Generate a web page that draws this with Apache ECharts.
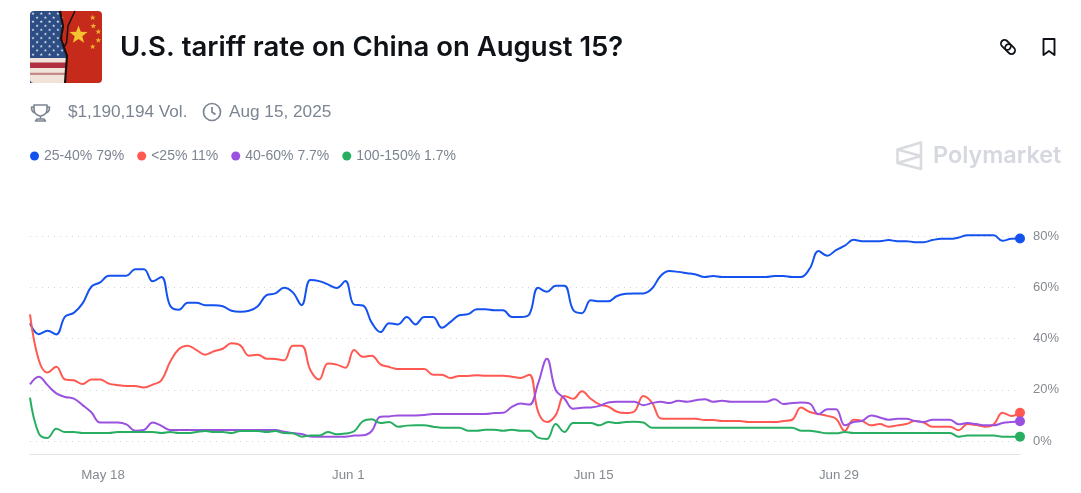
<!DOCTYPE html>
<html>
<head>
<meta charset="utf-8">
<title>U.S. tariff rate on China on August 15?</title>
<script src="https://cdn.jsdelivr.net/npm/echarts@6/dist/echarts.min.js"></script>
<style>
  html, body { margin: 0; padding: 0; background: #fff; }
  #chart { width: 1081px; height: 493px; }
</style>
</head>
<body>
<div id="chart"></div>
<script>
// one reading every 12 hours, starting May 13 20:00
var startTime = Date.UTC(2025, 4, 13, 20);
var stepMs = 12 * 3600 * 1000;

var tickDates = [Date.UTC(2025, 4, 18), Date.UTC(2025, 5, 1), Date.UTC(2025, 5, 15), Date.UTC(2025, 5, 29)];
var tickLabels = ['May 18', 'Jun 1', 'Jun 15', 'Jun 29'];

var names = ['25-40%', '<25%', '40-60%', '100-150%'];
var latest = ['79%', '11%', '7.7%', '1.7%'];
var colors = ['#1452F0', '#FF5952', '#9B51E0', '#27AE60'];

var blue = [45.9,41.7,43,41.6,48.5,50,53.7,60.2,61.9,64.5,
  64.5,64.5,67,67,62.3,64,52.8,51.2,54,54,
  53,53,52.6,50.8,50.4,50.8,52.6,56.9,57.6,59.8,
  58,53,62.8,62.4,61.1,59.7,62.4,53.2,52.9,46.2,
  42.5,46,45.5,48.4,45.5,48.4,48.4,44.2,46.5,49.1,
  49.5,51.4,51.4,51,51,48.4,48.4,49.5,59.8,58.2,
  60.6,60.6,51.1,49.9,54.9,54.5,54.5,56.6,57.5,57.6,
  57.6,59.5,64.5,66.3,66,65.5,65,64,64.4,64,
  64,64,64,64,64,64.4,64.4,64,64,67.3,
  74.1,72.3,74.5,76.2,78.5,78,78,78,78.4,78,
  78,77.6,77.6,78.4,78.9,78.9,79.4,80.3,80.3,80.3,
  80.3,78.1,78.9,79];

var red = [49.4,31.6,26.7,29,24,23.7,22.2,24,24,22.4,
  21.8,21.5,21.5,20.9,22,23.7,30.9,35.9,37.2,35.5,
  33.7,35,36,38.1,37.3,33.3,33.7,32.1,32,31.5,
  37.2,37.2,27.7,24,30.2,29.8,28.6,35.5,32.9,33.3,
  29.9,28.9,28.1,28.1,28.1,28.1,25.9,25.9,24.6,25.4,
  25.4,25.7,25.5,25.5,25.5,25.1,24.6,25.9,11.4,7.4,
  10.1,17.6,16.5,19.4,16.5,14.3,13.4,11.4,10.9,11.6,
  17.6,15,8.8,8.7,8.7,8.7,8.7,8.2,8.2,7.8,
  7.8,7.8,7.4,7.4,7.4,7.4,7.8,8.3,13.1,11.3,
  10.5,9.8,8.7,4,8.3,7.8,6.1,6.6,5.6,6.1,
  6.6,7.8,7.2,5.6,5.6,5.6,4.2,6.6,6.2,5.6,
  6.5,11,9.8,11];

var purple = [22.1,25.1,21.8,18.6,17.2,16.5,14,11.2,7.2,7.2,
  7.2,6.5,4,4.3,7.2,5.9,4.3,4.3,4.3,4.3,
  4.3,4.3,4.3,4.3,4.3,4.3,4.3,4.3,4.3,3.6,
  3.1,2.7,1.8,1.7,1.7,1.7,1.7,2.1,2.2,3.9,
  9.5,9.6,10,10,10,10.1,10.5,10.5,10.5,10.5,
  10.5,10.5,10.5,10.9,11,13.3,14.6,14.2,22.5,32.1,
  19.9,16.6,12.6,13,13.1,13.7,15,15.3,15.3,15.3,
  14,14.8,15.3,14.8,15.7,15.3,15.9,16.3,15.3,15.7,
  15.3,15.3,15.3,15.3,15.3,16.3,14.4,14.8,15,14.6,
  10.4,12.4,12.4,6.1,7.4,7.9,10,9.2,8.3,8.7,
  8.7,7.8,7.4,8.3,8.3,8.3,6.5,7,6.6,6.1,
  6.1,7,7.4,7.7];

var green = [16.9,3,1.2,4.8,3.5,3.5,3.1,3.1,3.1,3.1,
  3.5,3.5,3.5,3.5,3.5,3.1,3.5,3.1,3.1,3.5,
  3.9,3.5,3.5,3.1,3.9,3.9,3.9,3.5,3.9,3.1,
  3,1.7,2.1,2.1,3.5,2.6,2.9,3.8,7.7,8.5,
  7,7.4,5.6,6,6.1,6.1,5.6,5.2,5.2,5.2,
  4,4,4.4,4.4,4,4.4,4,4,1.3,0.8,
  6.6,3.5,7,7,7,6.1,7.4,7,7.4,7.5,
  7.2,5.2,5.2,5.2,5.2,5.2,5.2,5.2,5.2,5.2,
  5.2,5.2,5.2,5.2,5.2,5.2,5.2,5.2,4,4,
  3.5,3,3,3.5,3.1,3.1,3.1,3.1,3.1,3.1,
  3.1,3.1,3.1,3.1,3.1,3.1,1.7,2.1,2.1,2.1,
  2.1,1.7,1.7,1.7];

var allSeries = [blue, red, purple, green];
var titleFont = 'Inter, "Noto Sans", sans-serif';
var bodyFont = '"Liberation Sans", Arial, sans-serif';
var greyText = '#7C8591';

function starPath(cx, cy, r) {
  var d = '';
  for (var i = 0; i < 10; i++) {
    var a = -Math.PI / 2 + i * Math.PI / 5;
    var rr = i % 2 ? r * 0.42 : r;
    d += (i ? 'L' : 'M') + (cx + rr * Math.cos(a)).toFixed(1) + ' ' + (cy + rr * Math.sin(a)).toFixed(1);
  }
  return d + 'Z';
}

// the graphic component has no plain path type, so register one per icon
var pathCount = 0;
function path(d, style) {
  var name = 'iconPath' + (pathCount++);
  echarts.graphic.registerShape(name, echarts.graphic.extendPath(d, {}));
  return { type: name, silent: true, style: style };
}

function rect(x, y, w, h, fill, r) {
  return { type: 'rect', silent: true, shape: { x: x, y: y, width: w, height: h, r: r || 0 }, style: { fill: fill } };
}

function label(text, x, y, font, color) {
  return { type: 'text', silent: true, x: x, y: y, style: { text: text, font: font, fill: color, textVerticalAlign: 'middle' } };
}

// the flag thumbnail and header icons
function headerGraphics() {
  var g = [];
  g.push(rect(60, 11, 42, 72, '#C62A1B', [0, 4, 4, 0]));
  g.push(path('M30 15 Q30 11 34 11 H60 L63 26 L61 39 L67 56 L65 83 H30 Z', { fill: '#2D4D85' }));
  g.push(path('M30 58 H66.5 L65 83 H34 Q30 83 30 79 Z', { fill: '#EFE3DA' }));
  g.push(rect(30, 62.6, 36.3, 5.4, '#B03042'));
  g.push(rect(30, 72.8, 35.6, 2.2, '#C88A88'));
  var stars = '';
  for (var row = 0; row < 11; row++) {
    for (var col = 0; col < 4; col++) {
      stars += starPath(33 + col * 8.3 + (row % 2 ? 4.1 : 0), 13.5 + row * 4.1, 1.7);
    }
  }
  g.push(path(stars, { fill: '#CFD5E3' }));
  g.push(path('M60 11 L63 26 L61 39 L67 56 L65 83', { fill: 'none', stroke: '#1A1110', lineWidth: 2.2 }));
  g.push(path('M75 11 L68 26 L66.5 43 L64 47', { fill: 'none', stroke: '#1A1110', lineWidth: 1.5 }));
  g.push(path(starPath(78.5, 35, 9.5), { fill: '#F4C430' }));
  g.push(path(starPath(92.7, 17.7, 3) + starPath(93.3, 26, 3) + starPath(98.3, 31.7, 3) + starPath(98.3, 40.3, 3) + starPath(92.7, 46.7, 3), { fill: '#EFB02F' }));

  g.push(label('U.S. tariff rate on China on August 15?', 120, 47.5, '600 27.5px ' + titleFont, '#0F1318'));

  // link and bookmark
  g.push({ type: 'rect', silent: true, x: 1008, y: 47, rotation: -Math.PI / 4, originX: 0, originY: 0,
    shape: { x: -8.5, y: -3.6, width: 11, height: 7.2, r: 3.6 }, style: { fill: 'none', stroke: '#0F1318', lineWidth: 1.8 } });
  g.push({ type: 'rect', silent: true, x: 1008, y: 47, rotation: -Math.PI / 4, originX: 0, originY: 0,
    shape: { x: -2.5, y: -3.6, width: 11, height: 7.2, r: 3.6 }, style: { fill: 'none', stroke: '#0F1318', lineWidth: 1.8 } });
  g.push(path('M1043.5 39 H1054.5 V55 L1049 51 L1043.5 55 Z', { fill: 'none', stroke: '#0F1318', lineWidth: 1.9, lineJoin: 'round' }));

  // volume row
  g.push(path('M34 105 H47 V109 C47 114 43 116 40.5 116 C38 116 34 114 34 109 Z M34 107 H31.5 C31.5 111 33 112.5 35 113 M47 107 H49.5 C49.5 111 48 112.5 46 113 M40.5 116 V119 M35.5 121 H45.5 L44 119 H37 Z',
    { fill: 'none', stroke: '#7C8591', lineWidth: 1.6, lineJoin: 'round' }));
  g.push(label('$1,190,194 Vol.', 68, 112.5, '400 17.2px ' + bodyFont, greyText));
  g.push({ type: 'circle', silent: true, shape: { cx: 212, cy: 112, r: 8.5 }, style: { fill: 'none', stroke: '#7C8591', lineWidth: 1.7 } });
  g.push(path('M212 107 V112 L215.5 114.5', { fill: 'none', stroke: '#7C8591', lineWidth: 1.7 }));
  g.push(label('Aug 15, 2025', 229, 112.5, '400 17.2px ' + bodyFont, greyText));

  // watermark
  g.push(path('M921 142.5 L897.5 149.5 V163 L921 169 Z M897.5 149.5 L921 156 L897.5 163', { fill: 'none', stroke: '#D9DBE0', lineWidth: 2.6, lineJoin: 'round' }));
  g.push(label('Polymarket', 933, 156, '600 23.4px ' + titleFont, '#D5D8DE'));
  return g;
}

var times = blue.map(function (v, i) { return startTime + i * stepMs; });

var chart = echarts.init(document.getElementById('chart'));

chart.setOption({
  animation: false,
  textStyle: { fontFamily: bodyFont },
  grid: { left: 30, right: 61, top: 236, bottom: 52 },
  legend: {
    left: 30, top: 149, padding: 0, itemGap: 13, itemWidth: 9, itemHeight: 9, icon: 'circle',
    selectedMode: false,
    data: names,
    formatter: function (n) { return n + ' ' + latest[names.indexOf(n)]; },
    textStyle: { fontSize: 14, color: greyText, fontFamily: bodyFont }
  },
  xAxis: {
    type: 'value',
    min: startTime,
    max: startTime + (blue.length - 1) * stepMs,
    offset: 13,
    axisLine: { show: true, onZero: false, lineStyle: { color: '#E1E3E6', width: 1 } },
    axisTick: { show: false },
    splitLine: { show: false },
    axisLabel: {
      customValues: tickDates,
      margin: 15,
      fontSize: 13.3,
      color: '#858A90',
      fontFamily: bodyFont,
      formatter: function (v) { return tickLabels[tickDates.indexOf(+v)] || ''; }
    }
  },
  yAxis: {
    type: 'value',
    position: 'right',
    min: 0,
    max: 80,
    interval: 20,
    axisLine: { show: false },
    axisTick: { show: false },
    splitLine: { lineStyle: { color: '#D2D5D9', type: [1, 5], width: 1 } },
    axisLabel: { margin: 13, fontSize: 13, color: '#858A90', fontFamily: bodyFont, formatter: '{value}%' }
  },
  series: names.map(function (n, s) {
    var vals = allSeries[s];
    return {
      name: n,
      type: 'line',
      clip: false,
      smooth: 0.4,
      showSymbol: false,
      lineStyle: { color: colors[s], width: 2 },
      itemStyle: { color: colors[s] },
      data: vals.map(function (v, i) { return [times[i], v]; }),
      markPoint: {
        silent: true,
        symbol: 'circle',
        symbolSize: 10,
        label: { show: false },
        itemStyle: { color: colors[s] },
        data: [{ coord: [times[vals.length - 1], vals[vals.length - 1]] }]
      }
    };
  }),
  graphic: { elements: headerGraphics() }
});
</script>
</body>
</html>
